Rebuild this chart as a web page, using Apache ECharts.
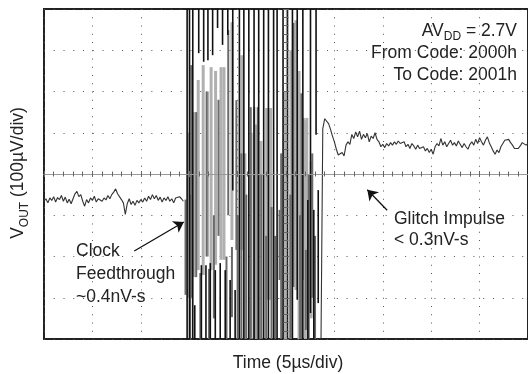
<!DOCTYPE html>
<html>
<head>
<meta charset="utf-8">
<script src="https://cdn.jsdelivr.net/npm/echarts@6/dist/echarts.min.js"></script>
<style>html,body{margin:0;padding:0;background:#fff;}#c{width:528px;height:374px;}</style>
</head>
<body>
<div id="c"></div>
<script>
// Time axis in divisions (5 µs/div), centre = 0; voltage in divisions (100 µV/div), centre = 0
const preStart = -5.0, preStep = 0.04;
const preValues = [-0.66,-0.60,-0.70,-0.58,-0.64,-0.55,-0.68,-0.57,-0.62,-0.52,-0.66,-0.56,-0.70,-0.61,-0.72,-0.60,-0.48,-0.42,-0.55,-0.50,
 -0.66,-0.78,-0.62,-0.70,-0.58,-0.64,-0.54,-0.68,-0.60,-0.56,-0.66,-0.58,-0.63,-0.52,-0.60,-0.50,-0.44,-0.36,-0.48,-0.45,
 -0.62,-0.70,-0.98,-0.72,-0.60,-0.74,-0.66,-0.76,-0.64,-0.70,-0.62,-0.68,-0.58,-0.66,-0.54,-0.62,-0.50,-0.60,-0.52,-0.64,
 -0.56,-0.68,-0.58,-0.64,-0.55,-0.66,-0.60,-0.70,-0.58,-0.62,-0.55,-0.60,-0.66];
const postStart = 0.72, postStep = 0.04;
const postValues = [-4.5,1.10,1.34,1.38,1.22,1.08,0.92,0.78,0.60,0.46,0.42,0.52,0.44,0.70,0.78,0.72,0.96,0.86,1.02,0.90,
 1.04,0.84,0.96,0.88,0.98,0.78,0.92,0.86,1.00,0.84,0.78,0.66,0.72,0.64,0.74,0.68,0.76,0.70,0.78,0.72,
 0.80,0.74,0.70,0.78,0.66,0.72,0.62,0.74,0.68,0.60,0.70,0.62,0.58,0.66,0.56,0.62,0.52,0.60,0.48,0.66,
 0.74,0.68,0.86,0.70,0.78,0.66,0.74,0.82,0.70,0.76,0.68,0.80,0.72,0.64,0.74,0.66,0.60,0.72,0.78,0.70,
 0.84,0.74,0.88,0.78,0.70,0.82,0.90,0.76,0.66,0.56,0.48,0.58,0.52,0.66,0.74,0.82,0.78,0.84,0.76,0.70,
 0.62,0.58,0.62,0.68,0.76,0.72,0.70,0.74];
// Glitch strokes: [time, from level, to level]
const blackStrokes = [
 [-2.043,4.5,-4.5],[-1.994,4.5,-4.5],[-1.926,4.5,-4.5],[-1.885,-3.18,-4.5],[-1.803,4.5,2.93],[-1.748,-2.21,-4.5],
 [-1.701,4.5,2.72],[-1.654,-2.21,-4.5],[-1.613,4.5,2.76],[-1.564,-2.16,-4.5],[-1.516,4.5,2.88],[-1.461,-2.33,-4.5],
 [-1.414,4.5,3.54],[-1.359,-2.16,-4.5],[-1.311,4.5,3.13],[-1.256,-2.33,-4.5],[-1.203,4.5,3.37],[-1.154,-2.57,-4.5],
 [-1.100,4.5,-0.4],[-1.051,-2.81,-4.5],[-0.963,4.5,-4.5],[-0.871,4.5,-4.5],[-0.768,4.5,-4.5],[-0.660,4.5,-4.5],[-0.564,4.5,-4.5],
 [-0.461,4.5,-4.5],[-0.363,4.5,-4.5],[-0.256,4.5,-4.5],[-0.184,4.5,-4.5],[-0.061,4.5,-4.5],[0.031,4.5,-4.5],
 [0.133,4.5,-4.5],[0.232,4.5,-3.05],[0.348,4.5,-4.5],[0.451,-0.63,-4.5],[0.506,4.5,-3.37],[0.574,-0.87,-4.5],
 [0.621,4.5,0.95],[0.666,-0.39,-3.13]];
const darkStrokes = [
 [-2.076,-0.62,-2.93],[-1.957,2.64,-3.0],[-1.980,-0.5,-4.5],[-1.855,1.5,-2.5],[-1.770,-2.4,-4.5],[-1.640,2.0,-2.0],
 [-1.590,-2.3,-4.5],[-1.490,-1.0,-3.5],[-1.395,1.8,-1.5],[-1.230,-2.0,-4.5],[-1.193,3.49,-1.0],
 [-1.117,-1.77,-3.47],[-1.025,1.79,-1.84],[-1.000,-1.0,-4.5],[-0.920,0.5,-4.5],[-0.820,-0.5,-4.5],
 [-0.728,1.62,-4.5],[-0.656,1.62,-4.5],[-0.584,1.62,-4.5],[-0.510,0.0,-4.5],[-0.410,-1.5,-4.5],[-0.300,-0.8,-4.5],
 [-0.220,-1.5,-4.5],[-0.133,-0.87,-2.57],[-0.100,0.5,-4.5],[0.090,-0.5,-4.5],[0.154,3.66,-2.74],[0.290,-1.0,-4.5],
 [0.318,1.96,-4.5],[0.410,-1.84,-3.78],[0.470,0.0,-4.5],[0.543,0.5,-3.0],[0.600,-1.5,-4.5]];
const lightStrokes = [
 [-2.010,1.0,-3.0],[-1.900,1.5,-2.5],[-1.814,2.28,-2.33],[-1.711,2.64,-2.45],[-1.620,2.0,-2.0],[-1.547,2.59,-2.33],
 [-1.455,2.5,-2.2],[-1.342,2.59,-2.08],[-1.281,2.59,-2.08],[-1.117,3.68,-1.6],[-0.912,2.88,-1.84],
 [-0.850,0.5,-4.5],[-0.720,1.0,-4.5],[-0.620,1.2,-4.5],[-0.520,0.8,-4.5],[-0.400,1.60,-3.05],[-0.318,1.60,-3.05],
 [-0.030,2.0,-4.5],[0.100,3.0,-4.5],[0.205,3.73,-2.81],[0.270,2.5,-4.5],[0.359,1.36,-2.57],[0.400,1.3,-4.5],
 [0.430,1.36,-3.71],[0.520,0.3,-3.5]];
// annotation arrows [fromT, fromV, toT, toV]
const arrows = [[-3.135,-1.867,-2.111,-1.164],[2.090,-0.880,1.680,-0.381]];

const FONT = '"Liberation Sans", Arial, Helvetica, sans-serif';
const TXT = '#222';

const preData = preValues.map((v,i)=>[+(preStart+i*preStep).toFixed(3), v]);
const postData = postValues.map((v,i)=>[+(postStart+i*postStep).toFixed(3), v]);

function strokeSeries(data, color, width){
  return {
    type:'custom', data:data, clip:true, z:2,
    encode:{x:0,y:[1,2]},
    renderItem:function(params, api){
      const x = api.value(0), a = api.value(1), b = api.value(2);
      const p1 = api.coord([x,a]), p2 = api.coord([x,b]);
      return {type:'line', shape:{x1:p1[0],y1:p1[1],x2:p2[0],y2:p2[1]}, style:{stroke:color,lineWidth:width}};
    }
  };
}

function centreX(inside){
  return {type:'value', min:-5, max:5, interval:1, z:10,
    axisLine:{show:true,onZero:true,onZeroAxisIndex:0,lineStyle:{color:'#999',width:1.2,type:[2,1]}},
    axisTick:{show:true,inside:inside,length:3,lineStyle:{color:'#666',width:1}},
    minorTick:{show:true,splitNumber:5,length:2.5,lineStyle:{color:'#666',width:1}},
    axisLabel:{show:false}, splitLine:{show:false}};
}
function centreY(inside){
  return {type:'value', min:-4, max:4, interval:1, z:10,
    axisLine:{show:true,onZero:true,onZeroAxisIndex:0,lineStyle:{color:'#999',width:1.2,type:[2,1]}},
    axisTick:{show:true,inside:inside,length:3,lineStyle:{color:'#666',width:1}},
    minorTick:{show:true,splitNumber:5,length:2.5,lineStyle:{color:'#666',width:1}},
    axisLabel:{show:false}, splitLine:{show:false}};
}

const chart = echarts.init(document.getElementById('c'), null, {renderer:'canvas'});
chart.setOption({
  animation:false,
  backgroundColor:'#fff',
  grid:{left:44, top:9, width:488, height:330, show:true, borderColor:'#222', borderWidth:2, backgroundColor:'transparent'},
  xAxis:[
    {type:'value', min:-5, max:5, interval:1, position:'bottom',
     axisLine:{show:false,onZero:false}, axisTick:{show:false}, axisLabel:{show:false},
     splitLine:{show:true,lineStyle:{color:'#555',width:1,type:[1,7.25]}}},
    centreX(true), centreX(false)
  ],
  yAxis:[
    {type:'value', min:-4, max:4, interval:1, position:'left',
     axisLine:{show:false,onZero:false}, axisTick:{show:false}, axisLabel:{show:false},
     splitLine:{show:true,lineStyle:{color:'#555',width:1,type:[1,8.76]}}},
    centreY(true), centreY(false)
  ],
  series:[
    strokeSeries(lightStrokes,'#b0b0b0',3),
    strokeSeries(darkStrokes,'#6a6a6a',2),
    strokeSeries(blackStrokes,'#111',1.6),
    {type:'line', data:preData, showSymbol:false, lineStyle:{color:'#333',width:1.1}, z:3,
     markLine:{silent:true, symbol:['none','arrow'], symbolSize:10, label:{show:false},
       lineStyle:{color:'#111',width:1.3,type:'solid'},
       data: arrows.map(a=>[{coord:[a[0],a[1]]},{coord:[a[2],a[3]]}])}},
    {type:'line', data:postData, showSymbol:false, lineStyle:{color:'#333',width:1.1}, z:3}
  ],
  graphic:[
    {type:'text', x:517, y:31, style:{text:'AV{sub|DD} = 2.7V', fill:TXT, fontSize:17.5, fontFamily:FONT, lineHeight:24, align:'right', verticalAlign:'middle',
      rich:{sub:{fontSize:12, lineHeight:11, verticalAlign:'bottom', fontFamily:FONT, fill:TXT}}}},
    {type:'text', x:517, y:53, style:{text:'From Code: 2000h', fill:TXT, fontSize:17.5, fontFamily:FONT, align:'right', verticalAlign:'middle'}},
    {type:'text', x:517, y:75, style:{text:'To Code: 2001h', fill:TXT, fontSize:17.5, fontFamily:FONT, align:'right', verticalAlign:'middle'}},
    {type:'text', x:76, y:251, style:{text:'Clock', fill:TXT, fontSize:17.5, fontFamily:FONT, align:'left', verticalAlign:'middle'}},
    {type:'text', x:76, y:274, style:{text:'Feedthrough', fill:TXT, fontSize:17.5, fontFamily:FONT, align:'left', verticalAlign:'middle'}},
    {type:'text', x:76, y:297.5, style:{text:'~0.4nV-s', fill:TXT, fontSize:17.5, fontFamily:FONT, align:'left', verticalAlign:'middle'}},
    {type:'text', x:394, y:218.7, style:{text:'Glitch Impulse', fill:TXT, fontSize:17.5, fontFamily:FONT, align:'left', verticalAlign:'middle'}},
    {type:'text', x:394, y:240, style:{text:'< 0.3nV-s', fill:TXT, fontSize:17.5, fontFamily:FONT, align:'left', verticalAlign:'middle'}},
    {type:'text', x:288, y:363, style:{text:'Time (5µs/div)', fill:TXT, fontSize:17.5, fontFamily:FONT, align:'center', verticalAlign:'middle'}},
    {type:'text', x:18.5, y:173, rotation:Math.PI/2, style:{text:'V{sub|OUT} (100µV/div)', fill:TXT, fontSize:17.5, fontFamily:FONT, lineHeight:24, align:'center', verticalAlign:'middle',
      rich:{sub:{fontSize:12, lineHeight:11, verticalAlign:'bottom', fontFamily:FONT, fill:TXT}}}}
  ]
});
</script>
</body>
</html>
